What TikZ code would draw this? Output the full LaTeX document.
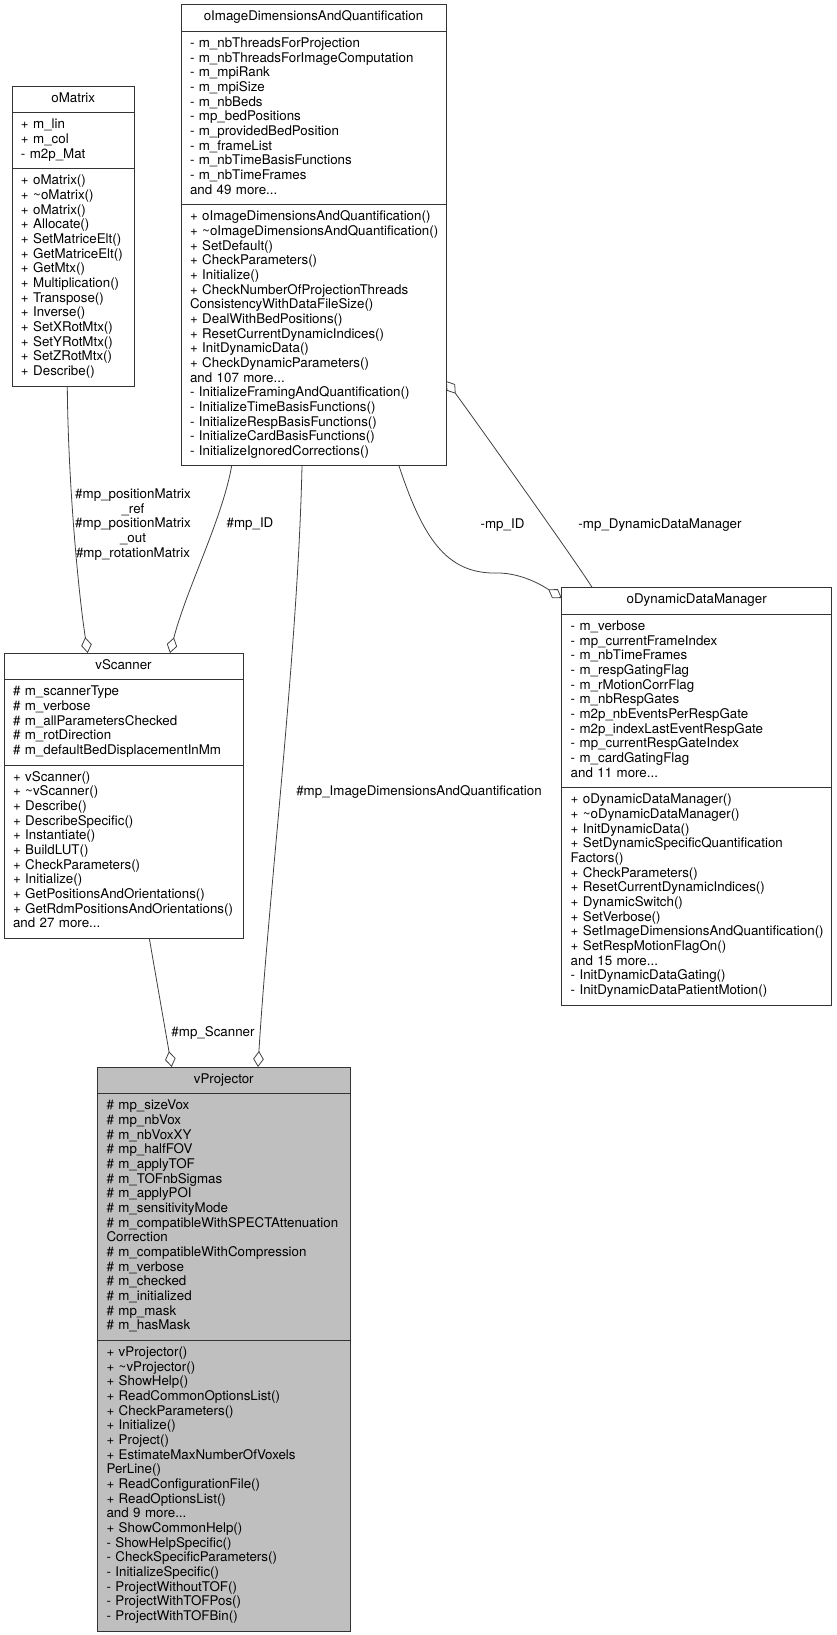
\documentclass[tikz,border=0pt]{standalone}
\usepackage{fontspec}
\setmainfont{TeX Gyre Heros}
\usepackage{tikz}
\usetikzlibrary{arrows.meta,shapes.multipart}
\newcommand{\classname}[1]{\noindent\hbox to\hsize{\hfil\strut #1\hfil}}
\newcommand{\fieldlist}[1]{\noindent\begin{tabular}{@{}l@{}}#1\end{tabular}}
\tikzset{%
  ClassBox/.style={rectangle split,rectangle split parts=3,draw=black!80,line width=0.75pt,
    anchor=north west,outer sep=0pt,inner xsep=6.75pt,inner ysep=4.125pt,align=left,
    font=\fontsize{10}{11}\selectfont},
  ClassLink/.style={draw=black!75,line width=0.6pt,-{Diamond[open,length=12pt,width=8pt]}},
  LinkLabel/.style={font=\fontsize{10}{11}\selectfont,align=center,inner sep=0pt}
}

\begin{document}
\begin{tikzpicture}[x=0.75pt,y=-0.75pt]
  \useasboundingbox (0,0) rectangle (837,1635);

  \node[ClassBox,text width=78.4pt] (omat) at (12,86) {\classname{oMatrix}
    \nodepart{two}\fieldlist{+ m\_lin\\+ m\_col\\- m2p\_Mat}
    \nodepart{three}\fieldlist{+ oMatrix()\\+ \textasciitilde oMatrix()\\+ oMatrix()\\
      + Allocate()\\+ SetMatriceElt()\\+ GetMatriceElt()\\+ GetMtx()\\+ Multiplication()\\
      + Transpose()\\+ Inverse()\\+ SetXRotMtx()\\+ SetYRotMtx()\\+ SetZRotMtx()\\+ Describe()}};

  \node[ClassBox,text width=185.25pt] (oimg) at (181,4.5) {\classname{oImageDimensionsAndQuantification}
    \nodepart{two}\fieldlist{- m\_nbThreadsForProjection\\- m\_nbThreadsForImageComputation\\
      - m\_mpiRank\\- m\_mpiSize\\- m\_nbBeds\\- mp\_bedPositions\\- m\_providedBedPosition\\
      - m\_frameList\\- m\_nbTimeBasisFunctions\\- m\_nbTimeFrames\\and 49 more...}
    \nodepart{three}\fieldlist{+ oImageDimensionsAndQuantification()\\
      + \textasciitilde oImageDimensionsAndQuantification()\\+ SetDefault()\\+ CheckParameters()\\
      + Initialize()\\+ CheckNumberOfProjectionThreads\\ConsistencyWithDataFileSize()\\
      + DealWithBedPositions()\\+ ResetCurrentDynamicIndices()\\+ InitDynamicData()\\
      + CheckDynamicParameters()\\and 107 more...\\- InitializeFramingAndQuantification()\\
      - InitializeTimeBasisFunctions()\\- InitializeRespBasisFunctions()\\
      - InitializeCardBasisFunctions()\\- InitializeIgnoredCorrections()}};

  \node[ClassBox,text width=165.75pt] (vscan) at (4,653) {\classname{vScanner}
    \nodepart{two}\fieldlist{\# m\_scannerType\\\# m\_verbose\\\# m\_allParametersChecked\\
      \# m\_rotDirection\\\# m\_defaultBedDisplacementInMm}
    \nodepart{three}\fieldlist{+ vScanner()\\+ \textasciitilde vScanner()\\+ Describe()\\
      + DescribeSpecific()\\+ Instantiate()\\+ BuildLUT()\\+ CheckParameters()\\+ Initialize()\\
      + GetPositionsAndOrientations()\\+ GetRdmPositionsAndOrientations()\\and 27 more...}};

  \node[ClassBox,text width=189pt] (oddm) at (561.7,587.7) {\classname{oDynamicDataManager}
    \nodepart{two}\fieldlist{- m\_verbose\\- mp\_currentFrameIndex\\- m\_nbTimeFrames\\
      - m\_respGatingFlag\\- m\_rMotionCorrFlag\\- m\_nbRespGates\\- m2p\_nbEventsPerRespGate\\
      - m2p\_indexLastEventRespGate\\- mp\_currentRespGateIndex\\- m\_cardGatingFlag\\and 11 more...}
    \nodepart{three}\fieldlist{+ oDynamicDataManager()\\+ \textasciitilde oDynamicDataManager()\\
      + InitDynamicData()\\+ SetDynamicSpecificQuantification\\Factors()\\+ CheckParameters()\\
      + ResetCurrentDynamicIndices()\\+ DynamicSwitch()\\+ SetVerbose()\\
      + SetImageDimensionsAndQuantification()\\+ SetRespMotionFlagOn()\\and 15 more...\\
      - InitDynamicDataGating()\\- InitDynamicDataPatientMotion()}};

  \node[ClassBox,fill=black!25,text width=175.9pt] (vproj) at (97.5,1067) {\classname{vProjector}
    \nodepart{two}\fieldlist{\# mp\_sizeVox\\\# mp\_nbVox\\\# m\_nbVoxXY\\\# mp\_halfFOV\\
      \# m\_applyTOF\\\# m\_TOFnbSigmas\\\# m\_applyPOI\\\# m\_sensitivityMode\\
      \# m\_compatibleWithSPECTAttenuation\\Correction\\\# m\_compatibleWithCompression\\
      \# m\_verbose\\\# m\_checked\\\# m\_initialized\\\# mp\_mask\\\# m\_hasMask}
    \nodepart{three}\fieldlist{+ vProjector()\\+ \textasciitilde vProjector()\\+ ShowHelp()\\
      + ReadCommonOptionsList()\\+ CheckParameters()\\+ Initialize()\\+ Project()\\
      + EstimateMaxNumberOfVoxels\\PerLine()\\+ ReadConfigurationFile()\\+ ReadOptionsList()\\
      and 9 more...\\+ ShowCommonHelp()\\- ShowHelpSpecific()\\- CheckSpecificParameters()\\
      - InitializeSpecific()\\- ProjectWithoutTOF()\\- ProjectWithTOFPos()\\- ProjectWithTOFBin()}};

  \draw[ClassLink] (omat.south -| 67.3,0) .. controls (68,480) and (78,590) .. (vscan.north -| 87.7,0);
  \draw[ClassLink] (oimg.south -| 231.7,0) .. controls (222,520) and (186,590) .. (vscan.north -| 170,0);
  \draw[ClassLink] (oimg.south -| 302,0) .. controls (298,650) and (268,900) .. (vproj.north -| 258,0);
  \draw[ClassLink] (vscan.south -| 149.3,0) -- (vproj.north -| 171.7,0);
  \draw[ClassLink] (oimg.south -| 399,0) .. controls (425,545) and (450,575) .. (500,573)
    .. controls (522,574) and (540,584) .. (oddm.west |- 0,598);
  \draw[ClassLink] (oddm.north -| 592.3,0) .. controls (575,560) and (462,402) .. (oimg.east |- 0,381);

  \node[LinkLabel] (lblmat) at (133,524.5) {\#mp\_positionMatrix\\\_ref\\\#mp\_positionMatrix\\\_out\\\#mp\_rotationMatrix};
  \node[LinkLabel] (lblscanid) at (250,524) {\#mp\_ID};
  \node[LinkLabel] (lbldynid) at (502.5,525) {-mp\_ID};
  \node[LinkLabel] (lbldyn) at (660,525) {-mp\_DynamicDataManager};
  \node[LinkLabel] (lblimg) at (419,792) {\#mp\_ImageDimensionsAndQuantification};
  \node[LinkLabel] (lblscan) at (213,1033) {\#mp\_Scanner};
\end{tikzpicture}
\end{document}
